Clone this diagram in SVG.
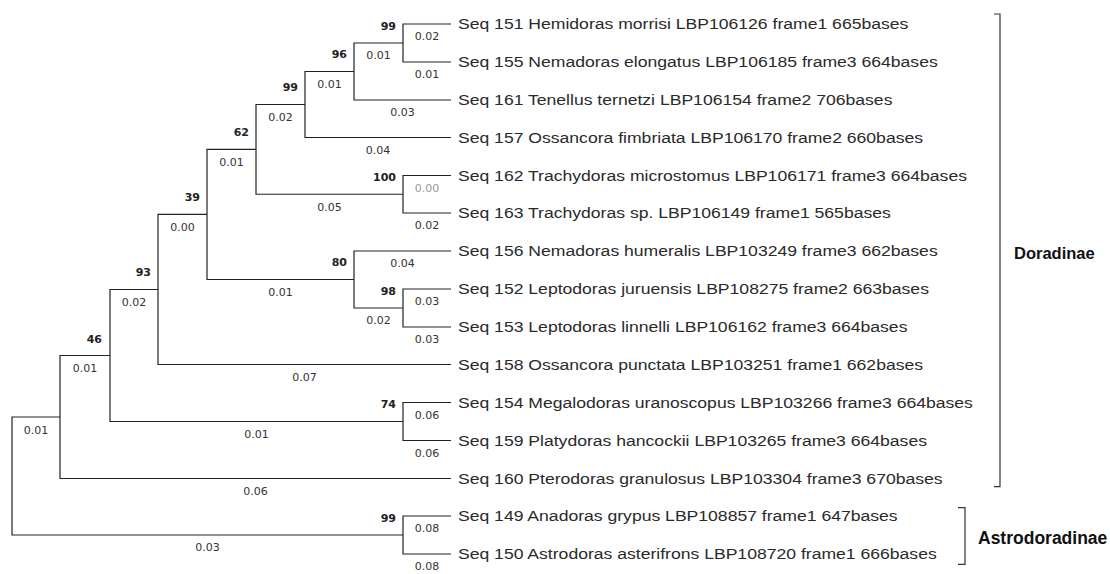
<svg xmlns="http://www.w3.org/2000/svg" width="1110" height="574" viewBox="0 0 1110 574">
<style>
.br{fill:none;stroke:#222;stroke-width:1.2}
.leaf{font-family:"Liberation Sans",Arial,sans-serif;font-size:15.5px;fill:#2a2a2a}
.bs{font-family:"DejaVu Sans",Verdana,sans-serif;font-size:11px;font-weight:bold;fill:#222;text-anchor:end}
.bl{font-family:"DejaVu Sans",Verdana,sans-serif;font-size:11px;fill:#333;text-anchor:middle}
.bl0{fill:#999}
.grp{font-family:"Liberation Sans",Arial,sans-serif;font-weight:bold;fill:#111}
.bk{fill:none;stroke:#333;stroke-width:1.2}
</style>
<rect width="1110" height="574" fill="#fff"/>
<g id="connectors">
<path class="br" d="M451 24H403V62H451"/>
<path class="br" d="M403 43H354V100H451"/>
<path class="br" d="M354 71.5H305V137.5H451"/>
<path class="br" d="M451 175.5H403V213H451"/>
<path class="br" d="M305 104.5H256V194.25H403"/>
<path class="br" d="M451 289H403V327H451"/>
<path class="br" d="M451 251H354V308H403"/>
<path class="br" d="M256 149.4H207V279.5H354"/>
<path class="br" d="M207 214.4H158V364.5H451"/>
<path class="br" d="M451 402.5H403V440.5H451"/>
<path class="br" d="M158 289.5H110V421.5H403"/>
<path class="br" d="M110 355.5H60V478.5H451"/>
<path class="br" d="M451 516H403V554H451"/>
<path class="br" d="M60 417H12V535H403"/>
</g>
<g id="branch-lengths">
<text class="bl" x="427" y="40">0.02</text>
<text class="bl" x="427" y="78">0.01</text>
<text class="bl" x="378.5" y="59">0.01</text>
<text class="bl" x="402.5" y="116">0.03</text>
<text class="bl" x="329.5" y="87.5">0.01</text>
<text class="bl" x="378" y="153.5">0.04</text>
<text class="bl" x="280.5" y="120.5">0.02</text>
<text class="bl bl0" x="427" y="191.5">0.00</text>
<text class="bl" x="427" y="229">0.02</text>
<text class="bl" x="329.5" y="210.5">0.05</text>
<text class="bl" x="231.5" y="165.5">0.01</text>
<text class="bl" x="402.5" y="267">0.04</text>
<text class="bl" x="427" y="305">0.03</text>
<text class="bl" x="427" y="343">0.03</text>
<text class="bl" x="378.5" y="324">0.02</text>
<text class="bl" x="280.5" y="295.5">0.01</text>
<text class="bl" x="182.5" y="230.5">0.00</text>
<text class="bl" x="304.5" y="380.5">0.07</text>
<text class="bl" x="134" y="305.5">0.02</text>
<text class="bl" x="427" y="418.5">0.06</text>
<text class="bl" x="427" y="456.5">0.06</text>
<text class="bl" x="256.5" y="437.5">0.01</text>
<text class="bl" x="85" y="371.5">0.01</text>
<text class="bl" x="255.5" y="494.5">0.06</text>
<text class="bl" x="36" y="434">0.01</text>
<text class="bl" x="427" y="532">0.08</text>
<text class="bl" x="427" y="570">0.08</text>
<text class="bl" x="207.5" y="551">0.03</text>
</g>
<g id="node-151-155"><text class="bs" x="396" y="29.5">99</text></g>
<g id="node-96"><text class="bs" x="347" y="58">96</text></g>
<g id="node-99a"><text class="bs" x="298" y="91">99</text></g>
<g id="node-100"><text class="bs" x="396" y="181">100</text></g>
<g id="node-62"><text class="bs" x="249" y="136">62</text></g>
<g id="node-98"><text class="bs" x="396" y="294.5">98</text></g>
<g id="node-80"><text class="bs" x="347" y="266">80</text></g>
<g id="node-39"><text class="bs" x="200" y="201">39</text></g>
<g id="node-93"><text class="bs" x="151" y="276">93</text></g>
<g id="node-74"><text class="bs" x="396" y="408">74</text></g>
<g id="node-46"><text class="bs" x="102" y="342.5">46</text></g>
<g id="node-99b"><text class="bs" x="396" y="521.5">99</text></g>
<g transform="scale(1.135 1)">
<g id="leaf-151"><text class="leaf" x="403.5" y="29.3">Seq 151 Hemidoras morrisi LBP106126 frame1 665bases</text></g>
<g id="leaf-155"><text class="leaf" x="403.5" y="67.3">Seq 155 Nemadoras elongatus LBP106185 frame3 664bases</text></g>
<g id="leaf-161"><text class="leaf" x="403.5" y="105.3">Seq 161 Tenellus ternetzi LBP106154 frame2 706bases</text></g>
<g id="leaf-157"><text class="leaf" x="403.5" y="142.8">Seq 157 Ossancora fimbriata LBP106170 frame2 660bases</text></g>
<g id="leaf-162"><text class="leaf" x="403.5" y="180.8">Seq 162 Trachydoras microstomus LBP106171 frame3 664bases</text></g>
<g id="leaf-163"><text class="leaf" x="403.5" y="218.3">Seq 163 Trachydoras sp. LBP106149 frame1 565bases</text></g>
<g id="leaf-156"><text class="leaf" x="403.5" y="256.3">Seq 156 Nemadoras humeralis LBP103249 frame3 662bases</text></g>
<g id="leaf-152"><text class="leaf" x="403.5" y="294.3">Seq 152 Leptodoras juruensis LBP108275 frame2 663bases</text></g>
<g id="leaf-153"><text class="leaf" x="403.5" y="332.3">Seq 153 Leptodoras linnelli LBP106162 frame3 664bases</text></g>
<g id="leaf-158"><text class="leaf" x="403.5" y="369.8">Seq 158 Ossancora punctata LBP103251 frame1 662bases</text></g>
<g id="leaf-154"><text class="leaf" x="403.5" y="407.8">Seq 154 Megalodoras uranoscopus LBP103266 frame3 664bases</text></g>
<g id="leaf-159"><text class="leaf" x="403.5" y="445.8">Seq 159 Platydoras hancockii LBP103265 frame3 664bases</text></g>
<g id="leaf-160"><text class="leaf" x="403.5" y="483.8">Seq 160 Pterodoras granulosus LBP103304 frame3 670bases</text></g>
<g id="leaf-149"><text class="leaf" x="403.5" y="521.3">Seq 149 Anadoras grypus LBP108857 frame1 647bases</text></g>
<g id="leaf-150"><text class="leaf" x="403.5" y="559.3">Seq 150 Astrodoras asterifrons LBP108720 frame1 666bases</text></g>
</g>
<g id="group-doradinae">
<path class="bk" d="M994 14H1000V486.7H994"/>
<text class="grp" x="1014" y="259.3" font-size="16.5">Doradinae</text>
</g>
<g id="group-astrodoradinae">
<path class="bk" d="M958 507.7H965V564.3H958"/>
<text class="grp" x="978" y="544" font-size="17.5">Astrodoradinae</text>
</g>
</svg>
